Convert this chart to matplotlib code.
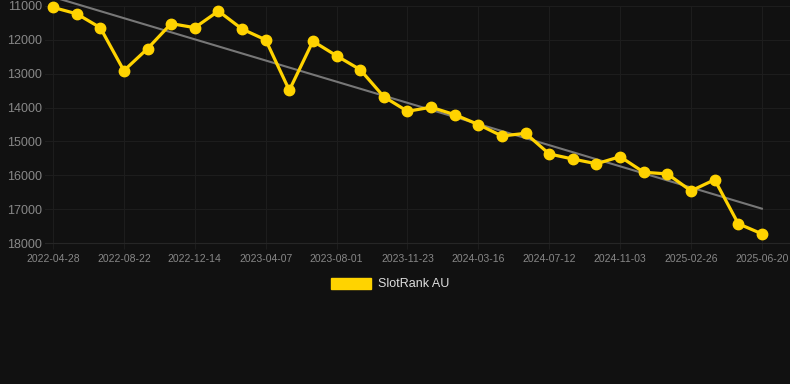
import numpy as np
import matplotlib.pyplot as plt

plt.rcParams['font.family'] = ['Liberation Sans', 'DejaVu Sans']

# rank values (one point per step)
rank = [11040, 11230, 11640, 12910, 12260, 11520, 11640, 11150, 11680, 12000,
        13490, 12040, 12470, 12880, 13680, 14110, 13990, 14210, 14500, 14840,
        14760, 15370, 15520, 15660, 15450, 15910, 15960, 16460, 16130, 17430,
        17730]
tick_labels = ['2022-04-28', '2022-08-22', '2022-12-14', '2023-04-07', '2023-08-01',
               '2023-11-23', '2024-03-16', '2024-07-12', '2024-11-03', '2025-02-26',
               '2025-06-20']
y_ticks = [11000, 12000, 13000, 14000, 15000, 16000, 17000, 18000]

x = np.arange(len(rank))
bg = '#111111'

fig = plt.figure(figsize=(7.9, 3.84), dpi=100, facecolor=bg)
ax = fig.add_axes([45/790, 1 - 243/384, 745/790, 237/384], facecolor=bg)

# trend line
k, b = np.polyfit(x, rank, 1)
ax.plot([x[0], x[-1]], [k*x[0] + b, k*x[-1] + b], color='#777777', lw=1.5, zorder=2,
        clip_on=False)

ax.plot(x, rank, color='#FFD300', lw=2.3, marker='o', markersize=7.5,
        markerfacecolor='#FFD300', markeredgecolor='#FFD300', zorder=3,
        clip_on=False, label='SlotRank AU')

ax.set_ylim(18000, 11000)
ax.set_xlim(-8 / 23.63, (790 - 53) / 23.63)
ax.set_yticks(y_ticks)
ax.set_xticks(x[::3])
ax.set_xticklabels(tick_labels)
ax.grid(True, color='#1d1d1d', lw=0.8)
ax.set_axisbelow(True)
for s in ax.spines.values():
    s.set_visible(False)
ax.spines['bottom'].set_visible(True)
ax.spines['bottom'].set_color('#262626')
ax.tick_params(axis='y', colors='#888888', labelsize=9, length=0, pad=2)
ax.tick_params(axis='x', colors='#888888', labelsize=7.5, length=4, pad=4,
               color='#1d1d1d')

leg = fig.legend(handles=[plt.Rectangle((0, 0), 1, 1, color='#FFD300')],
                 labels=['SlotRank AU'], loc='center', bbox_to_anchor=(390/790, 1 - 284/384),
                 frameon=False, handlelength=3.2, handleheight=1.0, fontsize=9,
                 labelcolor='#dddddd', handletextpad=0.6)

fig.savefig('out.png', dpi=100, facecolor=bg)
